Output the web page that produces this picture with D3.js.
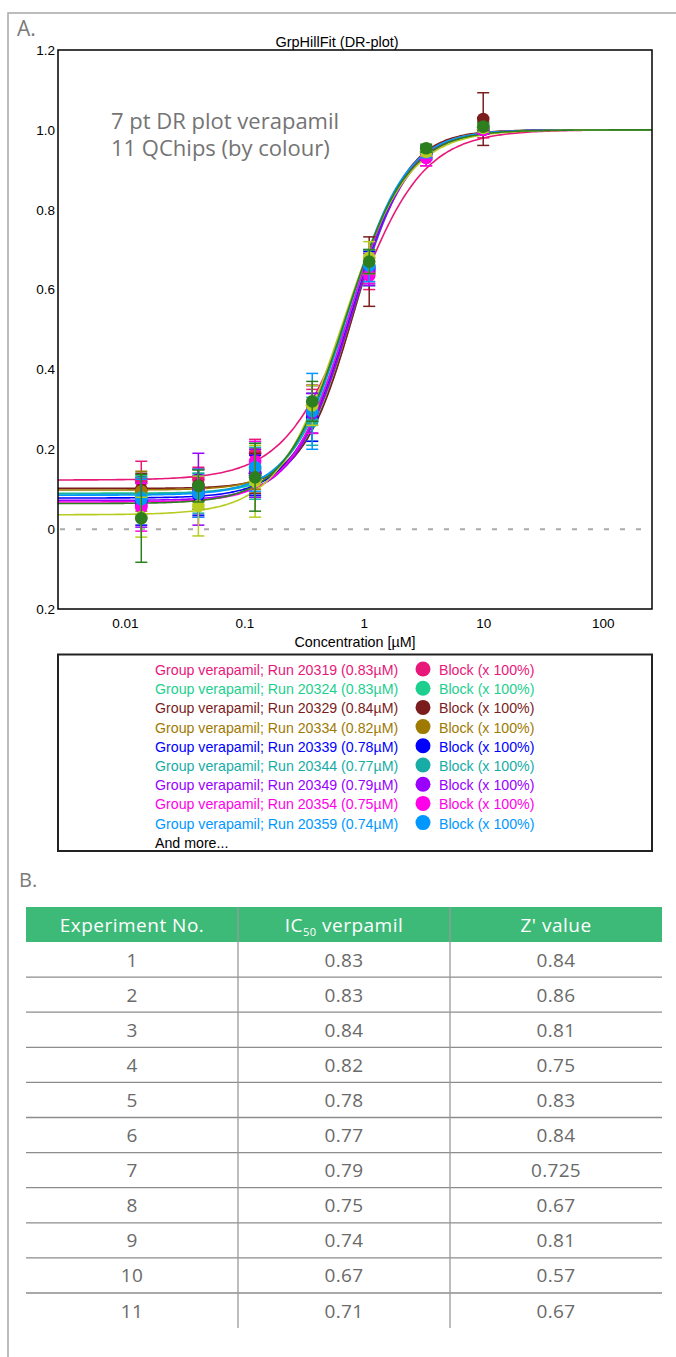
<!DOCTYPE html>
<html>
<head>
<meta charset="utf-8">
<script src="https://cdn.jsdelivr.net/npm/d3@7"></script>
<style>
  body { margin: 0; background: #fff; }
  svg { display: block; }
</style>
</head>
<body>
<svg id="chart"></svg>
<script>
var width = 676;
var height = 1357;

// doses (µM) of the 7 pt plot
var doses = [0.0137, 0.0412, 0.123, 0.370, 1.11, 3.33, 10];

// runs (11 QChips)
var runs = ["20319", "20324", "20329", "20334", "20339", "20344", "20349", "20354", "20359", "20364", "20369"];
var colors = ["#e8177a", "#1dcf8e", "#7b1d1d", "#9e7a02", "#0000ff", "#18aca7", "#9900ff", "#ff00e8", "#0098ff", "#b7cc1e", "#2d7e1f"];
var ic50 = [0.83, 0.83, 0.84, 0.82, 0.78, 0.77, 0.79, 0.75, 0.74, 0.67, 0.71];
var bottoms = [0.123, 0.09, 0.102, 0.098, 0.078, 0.088, 0.072, 0.068, 0.085, 0.036, 0.064];
var hills = [1.5, 1.9, 2.0, 1.9, 1.8, 1.8, 1.8, 1.8, 1.8, 1.6, 1.7];

// mean block per dose, one row per run
var means = [
  [0.12, 0.125, 0.19, 0.31, 0.64, 0.93, 1.0],
  [0.085, 0.095, 0.14, 0.29, 0.65, 0.94, 1.005],
  [0.10, 0.11, 0.14, 0.30, 0.645, 0.945, 1.027],
  [0.095, 0.10, 0.15, 0.31, 0.66, 0.945, 1.005],
  [0.07, 0.085, 0.135, 0.28, 0.655, 0.94, 1.0],
  [0.08, 0.09, 0.14, 0.27, 0.655, 0.945, 1.005],
  [0.06, 0.10, 0.14, 0.29, 0.65, 0.94, 1.0],
  [0.055, 0.09, 0.17, 0.30, 0.635, 0.93, 1.0],
  [0.075, 0.09, 0.155, 0.295, 0.66, 0.945, 1.005],
  [0.03, 0.058, 0.12, 0.31, 0.68, 0.945, 1.005],
  [0.027, 0.108, 0.13, 0.32, 0.67, 0.954, 1.008]
];
var errs = [
  [0.05, 0.03, 0.035, 0.04, 0.04, 0.02, 0.02],
  [0.05, 0.045, 0.06, 0.07, 0.04, 0.015, 0.015],
  [0.04, 0.04, 0.05, 0.06, 0.087, 0.015, 0.066],
  [0.05, 0.05, 0.05, 0.05, 0.04, 0.01, 0.01],
  [0.06, 0.05, 0.05, 0.06, 0.04, 0.015, 0.01],
  [0.05, 0.05, 0.065, 0.06, 0.045, 0.015, 0.01],
  [0.055, 0.09, 0.06, 0.05, 0.04, 0.015, 0.01],
  [0.06, 0.06, 0.05, 0.06, 0.02, 0.02, 0.01],
  [0.05, 0.06, 0.06, 0.095, 0.04, 0.015, 0.01],
  [0.05, 0.075, 0.09, 0.05, 0.04, 0.01, 0.01],
  [0.11, 0.04, 0.085, 0.05, 0.03, 0.01, 0.01]
];

var yTicks = [-0.2, 0, 0.2, 0.4, 0.6, 0.8, 1.0, 1.2];
var yLabels = ["0.2", "0", "0.2", "0.4", "0.6", "0.8", "1.0", "1.2"];
var xTicks = [0.01, 0.1, 1, 10, 100];
var xLabels = ["0.01", "0.1", "1", "10", "100"];

// table
var expNo = ["1", "2", "3", "4", "5", "6", "7", "8", "9", "10", "11"];
var ic50Col = ["0.83", "0.83", "0.84", "0.82", "0.78", "0.77", "0.79", "0.75", "0.74", "0.67", "0.71"];
var zCol = ["0.84", "0.86", "0.81", "0.75", "0.83", "0.84", "0.725", "0.67", "0.81", "0.57", "0.67"];

var legendCount = 9;

var arial = "'Liberation Sans', Arial, sans-serif";
var frut = "'Open Sans', 'Noto Sans', sans-serif";

var svg = d3.select("#chart")
  .attr("width", width)
  .attr("height", height);

// outer frame
svg.append("path")
  .attr("d", "M8,1357 L8,13 L676,13")
  .attr("fill", "none")
  .attr("stroke", "#a8a8a8")
  .attr("stroke-width", 1.5);

svg.append("text")
  .attr("x", 17).attr("y", 36)
  .attr("font-family", frut).attr("font-size", 21)
  .attr("fill", "#7a7a7a")
  .text("A.");

// ---- plot ----
var pL = 58, pR = 652, pT = 50, pB = 609;

var x = d3.scaleLog().domain([0.00275, 259]).range([pL, pR]);
var y = d3.scaleLinear().domain([-0.2, 1.2]).range([pB, pT]);

svg.append("text")
  .attr("x", 337).attr("y", 47)
  .attr("text-anchor", "middle")
  .attr("font-family", arial).attr("font-size", 14.5)
  .text("GrpHillFit (DR-plot)");

var yAxis = d3.axisLeft(y).tickValues(yTicks).tickSize(0).tickPadding(3)
  .tickFormat(function (d, i) { return yLabels[i]; });
var gy = svg.append("g").attr("transform", "translate(" + pL + ",0)").call(yAxis);
gy.select(".domain").remove();
gy.selectAll("text").attr("font-family", arial).attr("font-size", 13.5).attr("fill", "#000");

var xAxis = d3.axisBottom(x).tickValues(xTicks).tickSize(0).tickPadding(9)
  .tickFormat(function (d, i) { return xLabels[i]; });
var gx = svg.append("g").attr("transform", "translate(0," + pB + ")").call(xAxis);
gx.select(".domain").remove();
gx.selectAll("text").attr("font-family", arial).attr("font-size", 13.5).attr("fill", "#000");

svg.append("text")
  .attr("x", (pL + pR) / 2).attr("y", 647)
  .attr("text-anchor", "middle")
  .attr("font-family", arial).attr("font-size", 14.3)
  .text("Concentration [\u00b5M]");

// zero line
svg.append("line")
  .attr("x1", pL + 2).attr("x2", 642)
  .attr("y1", y(0)).attr("y2", y(0))
  .attr("stroke", "#aaaaaa").attr("stroke-width", 2)
  .attr("stroke-dasharray", "5,11");

var note = ["7 pt DR plot verapamil", "11 QChips (by colour)"];
note.forEach(function (t, i) {
  svg.append("text")
    .attr("x", 111).attr("y", 129 + i * 27)
    .attr("font-family", frut).attr("font-size", 22)
    .attr("fill", "#747474")
    .text(t);
});

// hill fit curves
function hill(c, k) {
  return bottoms[k] + (1 - bottoms[k]) / (1 + Math.pow(ic50[k] / c, hills[k]));
}
var lo10 = Math.log10(0.00275), hi10 = Math.log10(259);
var curveX = d3.range(0, 201).map(function (i) {
  return Math.pow(10, lo10 + i / 200 * (hi10 - lo10));
});
var line = d3.line()
  .x(function (d) { return x(d[0]); })
  .y(function (d) { return y(d[1]); })
  .curve(d3.curveMonotoneX);

var plot = svg.append("g");
runs.forEach(function (r, k) {
  plot.append("path")
    .datum(curveX.map(function (c) { return [c, hill(c, k)]; }))
    .attr("d", line)
    .attr("fill", "none")
    .attr("stroke", colors[k])
    .attr("stroke-width", 1.6);
});

// error bars + points
runs.forEach(function (r, k) {
  var g = plot.append("g").attr("stroke", colors[k]).attr("fill", colors[k]);
  doses.forEach(function (c, j) {
    var cx = x(c), lo = y(means[k][j] - errs[k][j]), hi = y(means[k][j] + errs[k][j]);
    g.append("line").attr("x1", cx).attr("x2", cx).attr("y1", lo).attr("y2", hi).attr("stroke-width", 1.5);
    g.append("line").attr("x1", cx - 6).attr("x2", cx + 6).attr("y1", lo).attr("y2", lo).attr("stroke-width", 1.5);
    g.append("line").attr("x1", cx - 6).attr("x2", cx + 6).attr("y1", hi).attr("y2", hi).attr("stroke-width", 1.5);
  });
  g.selectAll("circle")
    .data(doses)
    .enter().append("circle")
    .attr("cx", function (c) { return x(c); })
    .attr("cy", function (c, j) { return y(means[k][j]); })
    .attr("r", 6.3)
    .attr("stroke", "none");
});

// frame
svg.append("rect")
  .attr("x", pL).attr("y", pT)
  .attr("width", pR - pL).attr("height", pB - pT)
  .attr("fill", "none").attr("stroke", "#000").attr("stroke-width", 1.5);

// ---- legend ----
svg.append("rect")
  .attr("x", 58).attr("y", 654.5)
  .attr("width", 594).attr("height", 196.5)
  .attr("fill", "none").attr("stroke", "#222").attr("stroke-width", 2);

var lg = svg.append("g");
var rows = lg.selectAll("g")
  .data(runs.slice(0, legendCount))
  .enter().append("g")
  .attr("transform", function (d, i) { return "translate(0," + (670 + i * 19.2) + ")"; });
rows.append("text")
  .attr("x", 155).attr("y", 5)
  .attr("font-family", arial).attr("font-size", 14.2)
  .attr("fill", function (d, i) { return colors[i]; })
  .text(function (d, i) { return "Group verapamil; Run " + d + " (" + ic50[i].toFixed(2) + "\u00b5M)"; });
rows.append("circle")
  .attr("cx", 423).attr("cy", -1).attr("r", 7.5)
  .attr("fill", function (d, i) { return colors[i]; });
rows.append("text")
  .attr("x", 439).attr("y", 5)
  .attr("font-family", arial).attr("font-size", 14.2)
  .attr("fill", function (d, i) { return colors[i]; })
  .text("Block (x 100%)");
lg.append("text")
  .attr("x", 155).attr("y", 670 + legendCount * 19.2 + 5)
  .attr("font-family", arial).attr("font-size", 14.2)
  .text("And more...");

// ---- table ----
svg.append("text")
  .attr("x", 19).attr("y", 887)
  .attr("font-family", frut).attr("font-size", 20)
  .attr("fill", "#7a7a7a")
  .text("B.");

var tLeft = 26, tRight = 662, colW = (tRight - tLeft) / 3;
var headTop = 907, headH = 35, rowH = 35.1;
var colCenter = [0, 1, 2].map(function (i) { return tLeft + colW * (i + 0.5); });

svg.append("rect")
  .attr("x", tLeft).attr("y", headTop)
  .attr("width", tRight - tLeft).attr("height", headH)
  .attr("fill", "#3dba78");

var head = svg.append("g")
  .attr("font-family", frut).attr("font-size", 19).attr("fill", "#fff")
  .attr("letter-spacing", 0.5)
  .attr("text-anchor", "middle");
head.append("text").attr("x", colCenter[0]).attr("y", headTop + 24.5).text("Experiment No.");
var ht = head.append("text").attr("x", colCenter[1]).attr("y", headTop + 24.5);
ht.append("tspan").text("IC");
ht.append("tspan").attr("font-size", 11).attr("dy", 4).text("50");
ht.append("tspan").attr("dy", -4).text(" verpamil");
head.append("text").attr("x", colCenter[2]).attr("y", headTop + 24.5).text("Z' value");

var bodyTop = headTop + headH;
var tb = svg.append("g");
// row separators
tb.selectAll("line.row")
  .data(d3.range(1, expNo.length))
  .enter().append("line")
  .attr("x1", tLeft).attr("x2", tRight)
  .attr("y1", function (i) { return bodyTop + i * rowH; })
  .attr("y2", function (i) { return bodyTop + i * rowH; })
  .attr("stroke", "#8c8c8c").attr("stroke-width", 1.3);
// column separators
[1, 2].forEach(function (i) {
  tb.append("line")
    .attr("x1", tLeft + colW * i).attr("x2", tLeft + colW * i)
    .attr("y1", headTop).attr("y2", bodyTop + expNo.length * rowH)
    .attr("stroke", "#9a9a9a").attr("stroke-width", 1.3);
});

var cols = [expNo, ic50Col, zCol];
cols.forEach(function (col, ci) {
  tb.selectAll("text.c" + ci)
    .data(col)
    .enter().append("text")
    .attr("x", colCenter[ci])
    .attr("y", function (d, i) { return bodyTop + i * rowH + 24.5; })
    .attr("text-anchor", "middle")
    .attr("font-family", frut).attr("font-size", 19)
    .attr("letter-spacing", 0.3)
    .attr("fill", "#6a6a6a")
    .text(function (d) { return d; });
});
</script>
</body>
</html>
